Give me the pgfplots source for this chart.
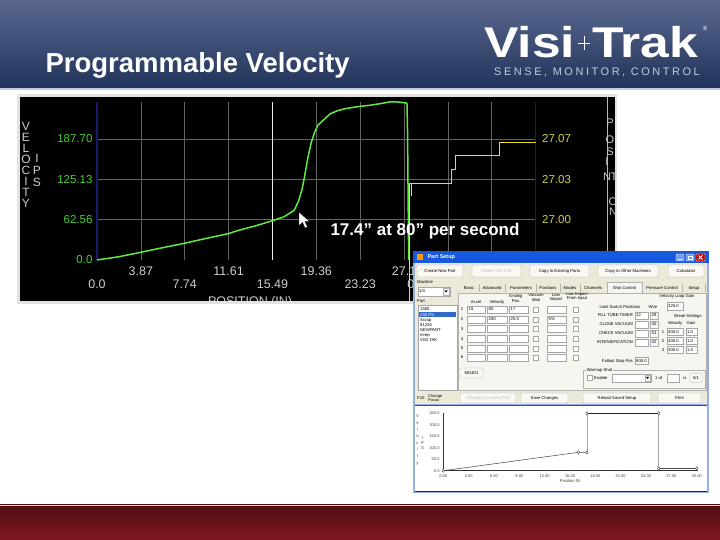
\documentclass[border=0pt]{standalone}
\usepackage{pgfplots}
\pgfplotsset{compat=1.18}
\usepackage{fontspec}
\setmainfont{Liberation Sans}
\definecolor{hdrtop}{RGB}{90,104,142}
\definecolor{hdrbot}{RGB}{33,51,90}
\definecolor{hdrline}{RGB}{190,205,225}
\definecolor{ftrtop}{RGB}{80,15,18}
\definecolor{ftrbot}{RGB}{128,25,32}
\definecolor{vgreen}{RGB}{95,235,60}
\definecolor{vgreenlab}{RGB}{75,205,50}
\definecolor{vyellow}{RGB}{235,220,45}
\definecolor{vyellowlab}{RGB}{210,205,70}
\definecolor{gridgray}{RGB}{100,100,100}
\definecolor{navyline}{RGB}{25,25,115}
\definecolor{ticklab}{RGB}{205,205,205}
\definecolor{xpbg}{RGB}{236,233,216}
\definecolor{xppanel}{RGB}{246,245,240}
\definecolor{xptitle}{RGB}{22,88,222}
\definecolor{xpframe}{RGB}{150,175,225}
\definecolor{xpsel}{RGB}{49,106,197}
\newcommand\tf{\fontsize{4.2}{4.8}\selectfont}
\newcommand\btn[6]{%
  \draw[draw=gray!65, fill=white!70!xpbg, rounded corners=0.8pt] (#1,#2) rectangle (#3,#4);
  \node[font=\tf, text=#6, inner sep=0pt] at ({(#1+#3)/2},{(#2+#4)/2}) {#5};}
\newcommand\tbox[5]{%
  \draw[draw=gray!70, fill=white] (#1,#2) rectangle (#3,#4);
  \node[font=\tf, anchor=west, inner sep=0pt] at ({#1+1},{(#2+#4)/2}) {#5};}
\newcommand\chk[2]{\draw[draw=gray!70, fill=white] (#1,#2) rectangle ({#1+5},{#2+5});}
\begin{document}
\begin{tikzpicture}[x=1pt,y=1pt]
\useasboundingbox (0,0) rectangle (720,540);
\fill[white] (0,0) rectangle (720,540);
% header
\shade[top color=hdrtop, bottom color=hdrbot] (0,451) rectangle (720,540);
\draw[hdrline, line width=1.5pt] (0,451) -- (720,451);
\node[anchor=west, text=white, font=\fontsize{27.5}{30}\selectfont\bfseries] at (42,475) {Programmable Velocity};
\node[anchor=base west, text=white, font=\fontsize{43}{43}\selectfont\bfseries, inner sep=0pt] at (484,482) {\scalebox{1.2}[1]{Visi}};
\draw[white, line width=0.7pt] (578,497) -- (590,497) (584,490) -- (584,504);
\node[anchor=base west, text=white, font=\fontsize{43}{43}\selectfont\bfseries, inner sep=0pt] at (592,482) {\scalebox{1.2}[1]{Trak}};
\node[text=white, font=\fontsize{6}{6}\selectfont] at (705,512) {®};
\node[anchor=base west, text=hdrline, font=\fontsize{11}{11}\selectfont, inner sep=0pt] at (494,464) {\addfontfeatures{LetterSpace=23}SENSE, MONITOR, CONTROL};
% footer
\shade[top color=ftrtop, bottom color=ftrbot] (0,0) rectangle (720,35);
\draw[gray!30] (0,35) -- (720,35);
% main panel
\fill[gray!22] (17,236) rectangle (617,446);
\fill[black] (20,239) rectangle (615,443);
\draw[gray!55, line width=0.8pt] (607,239) -- (607,443);
% axis labels (stacked letters)
\node[text=ticklab, align=center, font=\fontsize{12}{10.9}\selectfont] at (26,375) {V\\E\\L\\O\\C\\I\\T\\Y};
\node[text=ticklab, align=center, font=\fontsize{12}{12}\selectfont] at (37,370) {I\\P\\S};
\begin{scope}[font=\fontsize{11}{11}\selectfont, text=ticklab]
\node at (610,417) {P}; \node at (610,400) {O}; \node at (610,388) {S};
\node at (607,378) {I}; \node at (607,363) {N}; \node at (614,363) {T};
\node at (613,338) {O}; \node at (613,328) {N};
\end{scope}
\begin{axis}[
  at={(97pt,280pt)}, anchor=south west,
  scale only axis, width=438.6pt, height=158pt,
  xmin=0, xmax=38.7, ymin=0, ymax=245,
  clip=false,
  separate axis lines,
  x axis line style={draw=none},
  y axis line style={draw=navyline, line width=1.2pt},
  /pgf/number format/assume math mode=true,
  xtick={0,7.74,15.48,23.22,30.96,38.7},
  xticklabels={0.0,7.74,15.49,23.23,{},{}},
  extra x ticks={3.87,11.61,19.35,27.09,34.83},
  extra x tick labels={3.87,11.61,19.36,27.1,{}},
  xticklabel style={anchor=center, yshift=-24pt, text=ticklab, font=\fontsize{12.5}{13}\selectfont},
  extra x tick style={xticklabel style={yshift=13pt}},
  ytick={62.56,125.13,187.70},
  yticklabels={62.56,125.13,187.70},
  extra y ticks={0}, extra y tick labels={0.0},
  extra y tick style={grid=none},
  yticklabel style={text=vgreenlab, font=\fontsize{11.5}{12}\selectfont, anchor=east, xshift=-1pt},
  grid=major, major grid style={draw=gridgray, line width=0.7pt},
  major tick length=0pt,
  xlabel={POSITION (IN)},
  xlabel style={at={(axis description cs:0.349,0)}, anchor=center, yshift=-42pt, text=ticklab, font=\fontsize{12.5}{13}\selectfont},
]
\addplot[white!85!gray, line width=1pt] coordinates {(15.48,0) (15.48,245)};
\addplot[vgreen, line width=1.5pt] coordinates {
(0,0) (1.9,5) (3.87,12) (5.5,18) (7.74,26) (9,31) (11.61,41) (12.5,46) (14,53)
(15.5,61) (16.5,67) (17.4,77) (17.8,92) (18.1,110) (18.3,128) (18.6,158)
(18.9,182) (19.2,198) (19.5,209) (20.1,219) (20.6,227) (21.3,232) (22,235)
(23.1,238) (24.1,240) (25.2,243) (25.8,245) (26.5,245) (27.1,244) (27.35,243)
(27.4,200) (27.45,100) (27.5,0)};
\end{axis}
\begin{axis}[
  at={(97pt,280pt)}, anchor=south west,
  scale only axis, width=438.6pt, height=158pt,
  xmin=0, xmax=38.7, ymin=26.965, ymax=27.1021,
  clip=false,
  axis x line=none, axis y line*=right,
  y axis line style={draw=none},
  ytick={27,27.035,27.07}, yticklabels={27.00,27.03,27.07},
  yticklabel style={text=vyellowlab, font=\fontsize{11.5}{12}\selectfont, anchor=west, xshift=3pt},
  major tick length=0pt,
]
\addplot[vyellow, line width=1.3pt] coordinates {
(27.55,26.928) (27.55,27.0313) (27.72,27.0313) (27.72,27.0205) (27.72,27.0313)
(31.3,27.0313) (31.3,27.0438) (31.65,27.0438) (31.65,27.0555) (35.5,27.0555)
(35.5,27.0671) (38.7,27.0671)};
\end{axis}
% annotation and cursor
\node[anchor=west, text=white, font=\fontsize{17}{17}\selectfont\bfseries] at (327,309) {17.4" at 80" per second};
\filldraw[fill=white, draw=black, line width=0.4pt] (299,328) -- (299,314) -- (302.5,317.5) -- (305,312) -- (307.5,313) -- (305,318.5) -- (309.5,318.5) -- cycle;
\node[text=ticklab, font=\fontsize{12.5}{13}\selectfont] at (416,256) {0.0};
% cut below panel
\fill[white] (10,200) rectangle (414,236);
\fill[gray!22] (17,236) rectangle (414,239);
% dialog (image coordinates)
\begin{scope}[shift={(0,540)}, yscale=-1]
\fill[xpframe] (413,251) rectangle (709,493);
\fill[xptitle] (413,251) rectangle (709,263);
\fill[xpbg] (415,263) rectangle (707,404);
\fill[orange!80!yellow] (417,254) rectangle (423,260);
\node[anchor=west, text=white, font=\fontsize{5.5}{6}\selectfont\bfseries] at (424,257.5) {Part Setup};
\filldraw[fill=xptitle!60!white, draw=white, rounded corners=0.6pt] (676,254) rectangle (684,261);
\draw[white, line width=0.8pt] (678,259.5) -- (681.5,259.5);
\filldraw[fill=xptitle!60!white, draw=white, rounded corners=0.6pt] (686,254) rectangle (694,261);
\draw[white, line width=0.5pt] (688,256) rectangle (692,259.5);
\filldraw[fill=red!75!black, draw=white, rounded corners=0.6pt] (696,254) rectangle (705,261);
\draw[white, line width=0.8pt] (698.5,255.5) -- (702.5,259.5) (702.5,255.5) -- (698.5,259.5);
% top buttons
\btn{417}{265}{463}{277}{Create New Part}{black}
\btn{472}{265}{521}{277}{Delete This Part}{gray!55}
\btn{530}{265}{589}{277}{Copy to Existing Parts}{black}
\btn{598}{265}{658}{277}{Copy to Other Machines}{black}
\btn{668}{265}{704}{277}{Calculator}{black}
% left column
\node[font=\tf, anchor=west, inner sep=0pt] at (417,282.5) {Machine};
\tbox{418}{287}{450}{296}{1/4}
\draw[gray!60, fill=white!70!xpbg] (443,288) rectangle (449,295);
\fill[black] (444.5,290.5) -- (447.5,290.5) -- (446,292.5) -- cycle;
\node[font=\tf, anchor=west, inner sep=0pt] at (417,301) {Part};
\draw[gray!70, fill=white] (418,305) rectangle (457,390);
\fill[xpsel] (419,312.5) rectangle (456,317.5);
\begin{scope}[font=\tf]
\node[anchor=west, inner sep=0pt] at (420,309.5) {1500};
\node[anchor=west, inner sep=0pt, text=white] at (420,315) {250 PS};
\node[anchor=west, inner sep=0pt] at (420,320.5) {Scrap};
\node[anchor=west, inner sep=0pt] at (420,325.5) {81235};
\node[anchor=west, inner sep=0pt] at (420,330.5) {NEWPART};
\node[anchor=west, inner sep=0pt] at (420,335.5) {mrep};
\node[anchor=west, inner sep=0pt] at (420,340.5) {VISI TAK};
\node[anchor=west, inner sep=0pt] at (417,398) {F10};
\node[anchor=west, inner sep=0pt, align=left, font=\fontsize{4}{4.2}\selectfont] at (428,398) {Change\\Focus};
% tabs
\fill[xppanel] (458,293) rectangle (706,390);
\draw[gray!60] (458,293) rectangle (706,390);
\filldraw[fill=xppanel, draw=gray!60] (607,282) rectangle (642,293);
\draw[xppanel, line width=1pt] (607.5,293) -- (641.5,293);
\node at (469,288) {Basic};
\node at (492,288) {Advanced};
\node at (521,288) {Parameters};
\node at (548,288) {Positions};
\node at (570,288) {Modes};
\node at (593,288) {Channels};
\node at (624.5,288) {Shot Control};
\node at (662,288) {Pressure Control};
\node at (694,288) {Setup};
\foreach \sx in {479,505,536,560,580,682,705}{\draw[gray!60] (\sx,284) -- (\sx,292);}
% column headers
\node at (476,302) {Accel};
\node at (497,302) {Velocity};
\node[align=center] at (516,298.5) {Ending\\Pos.};
\node[align=center] at (536,297.5) {Vacuum\\Wait};
\node[align=center] at (556,297.5) {Low\\Impact};
\node[align=center] at (577,296.5) {Low Impact\\From Input};
\end{scope}
\foreach \n/\c in {1/309.5,2/319.5,3/329,4/339,5/348.5,6/357.5}{
  \node[font=\tf] at (462,\c) {\n};
  \draw[gray!70, fill=white] (467,\c-3.5) rectangle (485,\c+3.5);
  \draw[gray!70, fill=white] (487,\c-3.5) rectangle (507,\c+3.5);
  \draw[gray!70, fill=white] (509,\c-3.5) rectangle (528,\c+3.5);
  \draw[gray!70, fill=white] (533,\c-2.5) rectangle (538,\c+2.5);
  \draw[gray!70, fill=white] (547,\c-3.5) rectangle (566,\c+3.5);
  \draw[gray!70, fill=white] (573,\c-2.5) rectangle (578,\c+2.5);
}
\begin{scope}[font=\tf]
\node[anchor=west, inner sep=0pt] at (468.5,309.5) {15};
\node[anchor=west, inner sep=0pt] at (488.5,309.5) {80};
\node[anchor=west, inner sep=0pt] at (510.5,309.5) {17};
\node[anchor=west, inner sep=0pt] at (488.5,319.5) {250};
\node[anchor=west, inner sep=0pt] at (510.5,319.5) {25.5};
\node[anchor=west, inner sep=0pt] at (548.5,319.5) {5\%};
% right section
\node at (677,296) {Velocity Loop Gain};
\node at (620,307) {Limit Switch Positions};
\node at (653,307) {Wire};
\end{scope}
\tbox{667}{302}{683}{310}{325.0}
\foreach \lab/\c/\w in {FILL TUBE TIMER/315.5/29,CLOSE VACUUM/324.5/30,CHECK VACUUM/333.5/31,INTENSIFICATION/342.5/32}{
  \node[font=\tf, anchor=east, inner sep=0pt] at (633,\c) {\lab};
  \draw[gray!70, fill=white] (635,\c-3.5) rectangle (648,\c+3.5);
  \draw[gray!65, fill=white!70!xpbg] (650,\c-3.5) rectangle (658,\c+3.5);
  \node[font=\tf, inner sep=0pt] at (654,\c) {\w};
}
\node[font=\tf, anchor=west, inner sep=0pt] at (636,315.5) {12};
\node[font=\tf] at (688,316) {Break Settings};
\node[font=\tf] at (675,323.5) {Velocity};
\node[font=\tf] at (691,323.5) {Gain};
\foreach \n/\c in {1/332,2/341,3/350}{
  \node[font=\tf] at (663,\c) {\n};
  \draw[gray!70, fill=white] (667,\c-3.5) rectangle (683,\c+3.5);
  \node[font=\tf, anchor=west, inner sep=0pt] at (668,\c) {300.0};
  \draw[gray!70, fill=white] (686,\c-3.5) rectangle (697,\c+3.5);
  \node[font=\tf, anchor=west, inner sep=0pt] at (687,\c) {1.0};
}
\node[font=\tf, anchor=east, inner sep=0pt] at (633,361) {Fallout Stop Pos};
\tbox{635}{357.5}{648}{364.5}{900.0}
\draw[gray!60] (583,370) rectangle (705,388);
\node[font=\tf, fill=xppanel, inner sep=0.6pt, anchor=west] at (586,370) {Warmup Shot};
\chk{587}{375.5}
\node[font=\tf, anchor=west, inner sep=0pt] at (594,378) {Enable};
\draw[gray!70, fill=white] (612,374) rectangle (651,382);
\draw[gray!60, fill=white!70!xpbg] (645,375) rectangle (650,381);
\fill[black] (646,377) -- (649,377) -- (647.5,379) -- cycle;
\node[font=\tf, anchor=west, inner sep=0pt] at (655,378) {1 of};
\draw[gray!70, fill=white] (667,374) rectangle (679,382);
\node[font=\tf, inner sep=0pt] at (685,378) {is};
\btn{690}{373.5}{702}{382.5}{0/1}{black}
\btn{460}{368}{483}{378}{MG401}{black}
\btn{460}{393}{516}{403}{Change to Current Part}{gray!55}
\btn{521}{393}{568}{403}{Save Changes}{black}
\btn{583}{393}{651}{403}{Reload Saved Setup}{black}
\btn{658}{393}{701}{403}{Print}{black}
% chart area
\fill[white] (415,405) rectangle (707,491);
\draw[gray!60!black, line width=0.6pt] (415,405) -- (707,405);
\draw[black!85, line width=0.9pt] (415,491) -- (707,491);
\node[align=center, font=\fontsize{4.2}{6.6}\selectfont, text=black!70] at (417.5,440) {V\\e\\l\\o\\c\\i\\t\\y};
\node[align=center, font=\fontsize{4.2}{5}\selectfont, text=black!70] at (422.5,443) {I\\P\\S};
\end{scope}
% small chart
\begin{axis}[
  at={(443.3pt,69.3pt)}, anchor=south west,
  scale only axis, width=253.4pt, height=57.4pt,
  xmin=0, xmax=30, ymin=0, ymax=250,
  clip=false,
  axis lines=left,
  axis line style={-, black!80},
  y axis line style={line width=1.1pt},
  xtick={0,3,...,30},
  xticklabels={0.00,3.00,6.00,9.00,12.00,15.00,18.00,21.00,24.00,27.00,30.00},
  ytick={0,50,...,250},
  yticklabels={0.0,50.0,100.0,150.0,200.0,250.0},
  tick label style={font=\fontsize{4}{4}\selectfont, text=black!75},
  major tick length=1.5pt,
  tick style={black!70},
  xticklabel style={yshift=0.5pt},
  yticklabel style={xshift=0.5pt},
  xlabel={Position IN},
  xlabel style={font=\fontsize{4.2}{4.2}\selectfont, text=black!75, yshift=5pt},
]
\addplot[black!75, line width=0.5pt] coordinates {(0,0) (16,80) (17,80)};
\addplot[gray!70, line width=0.5pt] coordinates {(17,80) (17,250)};
\addplot[black!85, line width=1pt] coordinates {(17,250) (25.5,250)};
\addplot[gray!70, line width=0.5pt] coordinates {(25.5,250) (25.5,10)};
\addplot[gray!60!black, line width=1.3pt] coordinates {(25.5,10) (30,10)};
\addplot[only marks, mark=diamond*, mark size=1.7pt, mark options={fill=white, draw=black!75, line width=0.4pt}] coordinates {(0,0) (16,80) (17,80) (17,250) (25.5,250) (25.5,10) (30,10)};
\end{axis}
\end{tikzpicture}
\end{document}
